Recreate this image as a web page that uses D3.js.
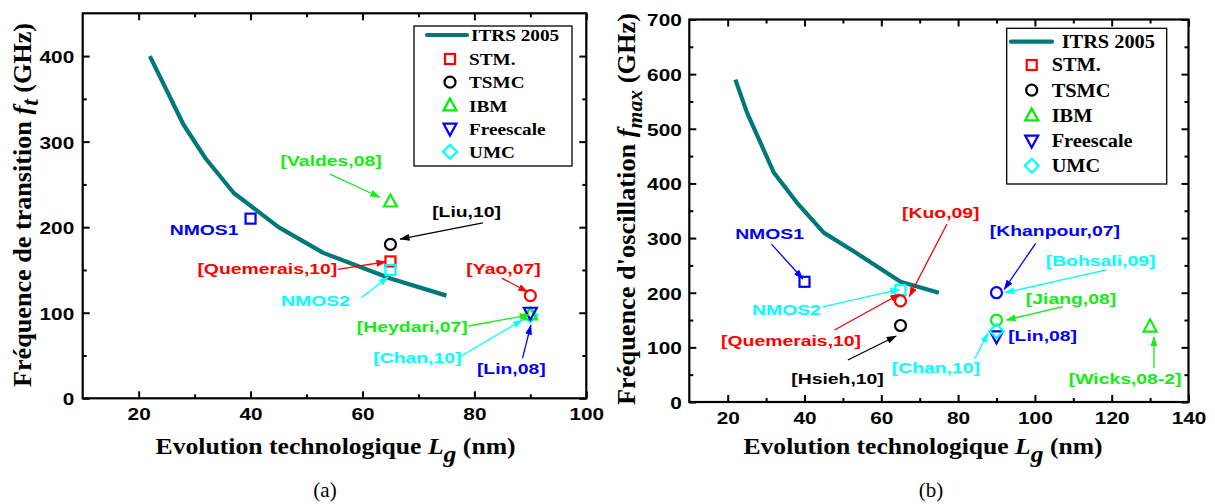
<!DOCTYPE html>
<html><head><meta charset="utf-8">
<script src="https://cdn.jsdelivr.net/npm/d3@7"></script>
<style>body{margin:0;background:#fff} svg{display:block}</style>
</head><body>
<svg id="c" width="1215" height="504"></svg>
<script>
// ---------------- DATA ----------------
const legendNames = ["ITRS 2005","STM.","TSMC","IBM","Freescale","UMC"];
const legendFoundry = ["STM","TSMC","IBM","Freescale","UMC"];
const legendColors = ["#ff0000","#000000","#00ee00","#0000ff","#00ffff"];

const ftItrsLg  = [22, 28, 32, 37, 45, 53, 65, 75];
const ftItrsVal = [400,320,280,240,200,170,140,120];
const fmaxItrsLg  = [22, 25, 32, 38, 45, 53, 65, 75];
const fmaxItrsVal = [590,530,420,365,310,275,220,200];

const ftLabels  = ["NMOS1","[Valdes,08]","[Liu,10]","[Quemerais,10]","NMOS2","[Yao,07]","[Chan,10]","[Heydari,07]","[Lin,08]"];
const ftFoundry = ["STM","IBM","TSMC","STM","STM","TSMC","UMC","IBM","Freescale"];
const ftLg      = [40, 65, 65, 65, 65, 90, 90, 90, 90];
const ftVal     = [210,230,180,160,150,120, 97, 98,100];

const fmaxLabels  = ["NMOS1","NMOS2","[Kuo,09]","[Hsieh,10]","[Khanpour,07]","[Jiang,08]","[Lin,08]","[Chan,10]","[Wicks,08-2]"];
const fmaxFoundry = ["STM","STM","TSMC","TSMC","TSMC","TSMC","Freescale","UMC","IBM"];
const fmaxLg      = [40, 65, 65, 65, 90, 90, 90, 90,130];
const fmaxVal     = [220,205,185,140,200,150,120,130,138];

const ftXTicks = [20,40,60,80,100];
const ftXMinor = [30,50,70,90];
const ftYTicks = [0,100,200,300,400];
const ftYMinor = [50,150,250,350];
const fmaxXTicks = [20,40,60,80,100,120,140];
const fmaxXMinor = [30,50,70,90,110,130];
const fmaxYTicks = [0,100,200,300,400,500,600,700];
const fmaxYMinor = [50,150,250,350,450,550,650];

// ---------------- STYLES / LAYOUT ----------------
const labelColor = {
  "NMOS1":"#0000ff","NMOS2":"#00ffff","[Valdes,08]":"#11ee11","[Liu,10]":"#000000",
  "[Quemerais,10]":"#ff0000","[Yao,07]":"#ff0000","[Chan,10]":"#00ffff","[Heydari,07]":"#11ee11",
  "[Lin,08]":"#0000ff","[Kuo,09]":"#ff0000","[Hsieh,10]":"#000000","[Khanpour,07]":"#0000ff",
  "[Jiang,08]":"#11ee11","[Wicks,08-2]":"#11ee11","[Bohsali,09]":"#00ffff"
};
const foundryShape = {STM:"square",TSMC:"circle",IBM:"up",Freescale:"down",UMC:"diamond"};
const ITRS_COLOR = "#007878";
const SERIF = "'Liberation Serif','Times New Roman',serif";
const SANS = "'Liberation Sans',Arial,sans-serif";

// annotation layout in data units: text centre, arrow start, arrow end
const ftNotes = [
  {t:"[Valdes,08]", at:[54.4,278], a:[[54.2,262],[63.1,235]]},
  {t:"[Liu,10]", at:[78.6,219], a:[[81.5,205],[66.7,186]]},
  {t:"NMOS1", at:[31.7,197.7]},
  {t:"[Quemerais,10]", at:[43,152], a:[[55.6,150.8],[64.2,159.6]]},
  {t:"NMOS2", at:[51.6,114], a:[[59.8,117.5],[64.6,142]]},
  {t:"[Yao,07]", at:[85.2,152], a:[[84.9,140.5],[89.5,124.5]]},
  {t:"[Heydari,07]", at:[68.9,84.5], a:[[79,84.5],[89.8,97.5]]},
  {t:"[Chan,10]", at:[69.8,48.2], a:[[77.4,48.6],[88.6,91.5]]},
  {t:"[Lin,08]", at:[86.6,35.4], a:[[88.6,47],[90.1,85.6]]}
];
const fmaxNotes = [
  {t:"NMOS1", at:[30.9,309], a:[[31.4,289],[39.6,225]]},
  {t:"[Kuo,09]", at:[75.5,346.4], a:[[77.1,325.8],[67.3,193]]},
  {t:"[Khanpour,07]", at:[105.2,314.8], a:[[100.2,290.4],[92,206]]},
  {t:"[Bohsali,09]", at:[117.1,259.9], a:[[118.6,241.6],[92.2,200]]},
  {t:"NMOS2", at:[35.3,170.2], a:[[44.7,173.9],[64.8,206.3]]},
  {t:"[Quemerais,10]", at:[36.5,113.5], a:[[47.8,131.8],[64.8,197.7]]},
  {t:"[Jiang,08]", at:[109.4,190.3], a:[[107.3,174.4],[92.5,150]]},
  {t:"[Lin,08]", at:[102,122.6]},
  {t:"[Chan,10]", at:[74.2,64], a:[[84.3,78.7],[87.8,126.3]]},
  {t:"[Hsieh,10]", at:[48.6,43.9], a:[[51.3,76.9],[63.9,120.8]]},
  {t:"[Wicks,08-2]", at:[123.5,43.9], a:[[131,62.2],[131,119.5]]}
];

const svg = d3.select("#c");
const defs = svg.append("defs");
const markerIds = {};
function arrowMarker(color){
  if (markerIds[color]) return markerIds[color];
  const id = "arr" + Object.keys(markerIds).length;
  defs.append("marker").attr("id",id).attr("markerUnits","userSpaceOnUse")
    .attr("markerWidth",10).attr("markerHeight",7).attr("refX",9.5).attr("refY",3.5)
    .attr("orient","auto")
    .append("path").attr("d","M0,0 L10,3.5 L0,7 z").attr("fill",color);
  markerIds[color] = id; return id;
}

function drawShape(g, shape, cx, cy, color){
  let el;
  if (shape==="square") el = g.append("rect").attr("x",cx-5).attr("y",cy-5).attr("width",10).attr("height",10);
  else if (shape==="circle") el = g.append("circle").attr("cx",cx).attr("cy",cy).attr("r",5.5);
  else {
    const pts = {up:[[0,-7],[6.5,5],[-6.5,5]], down:[[0,7],[6.5,-5],[-6.5,-5]], diamond:[[0,-7],[7,0],[0,7],[-7,0]]}[shape];
    el = g.append("polygon").attr("points", pts.map(p=>(cx+p[0])+","+(cy+p[1])).join(" "));
  }
  el.attr("fill","none").attr("stroke",color).attr("stroke-width",2.2);
}

function chart(cfg){
  const {x, y} = cfg;
  const g = svg.append("g");
  const [x0,x1] = x.range(), [y0,y1] = y.range();
  const styleAxis = a => { a.select(".domain").remove(); a.selectAll(".tick line").attr("stroke","#000").attr("stroke-width",2); };
  const tickText = a => a.selectAll("text").attr("font-family",SANS).attr("font-weight","bold")
      .attr("font-size",16).attr("fill","#000");

  // bottom
  const bx = g.append("g").attr("transform",`translate(0,${y0})`)
    .call(d3.axisBottom(x).tickValues(cfg.xTicks).tickSizeInner(-7).tickSizeOuter(0).tickPadding(10.5).tickFormat(d3.format("d")));
  styleAxis(bx); tickText(bx);
  bx.selectAll("text").attr("transform","scale(1.3,1)");
  g.append("g").attr("transform",`translate(0,${y0})`)
    .call(d3.axisBottom(x).tickValues(cfg.xMinor).tickSize(-4).tickFormat("")).call(styleAxis);
  // top
  g.append("g").attr("transform",`translate(0,${y1})`)
    .call(d3.axisTop(x).tickValues(cfg.xTicks).tickSize(-7).tickFormat("")).call(styleAxis);
  g.append("g").attr("transform",`translate(0,${y1})`)
    .call(d3.axisTop(x).tickValues(cfg.xMinor).tickSize(-4).tickFormat("")).call(styleAxis);
  // left
  const ly = g.append("g").attr("transform",`translate(${x0},0)`)
    .call(d3.axisLeft(y).tickValues(cfg.yTicks).tickSizeInner(-7).tickSizeOuter(0).tickPadding(8).tickFormat(d3.format("d")));
  styleAxis(ly); tickText(ly);
  ly.selectAll("text").attr("x",-cfg.yPad/1.3).attr("dy","0.4em").attr("transform","scale(1.3,1)");
  g.append("g").attr("transform",`translate(${x0},0)`)
    .call(d3.axisLeft(y).tickValues(cfg.yMinor).tickSize(-4).tickFormat("")).call(styleAxis);
  // right
  g.append("g").attr("transform",`translate(${x1},0)`)
    .call(d3.axisRight(y).tickValues(cfg.yTicks).tickSize(-7).tickFormat("")).call(styleAxis);
  g.append("g").attr("transform",`translate(${x1},0)`)
    .call(d3.axisRight(y).tickValues(cfg.yMinor).tickSize(-4).tickFormat("")).call(styleAxis);

  // frame
  g.append("rect").attr("x",x0).attr("y",y1).attr("width",x1-x0).attr("height",y0-y1)
    .attr("fill","none").attr("stroke","#000").attr("stroke-width",2.2);

  // ITRS line
  const line = d3.line().x(d=>x(d[0])).y(d=>y(d[1]));
  g.append("path").datum(cfg.itrsX.map((v,i)=>[v,cfg.itrsY[i]]))
    .attr("d",line).attr("fill","none").attr("stroke",ITRS_COLOR).attr("stroke-width",4.2)
    .attr("stroke-linejoin","round");

  // points
  const pg = g.append("g");
  cfg.pLg.forEach((v,i)=> drawShape(pg, foundryShape[cfg.pFoundry[i]], x(v), y(cfg.pVal[i]), labelColor[cfg.pLabels[i]]));

  // annotations
  const ag = g.append("g");
  cfg.notes.forEach(n=>{
    const c = labelColor[n.t];
    if (n.a){
      ag.append("line").attr("x1",x(n.a[0][0])).attr("y1",y(n.a[0][1]))
        .attr("x2",x(n.a[1][0])).attr("y2",y(n.a[1][1]))
        .attr("stroke",c).attr("stroke-width",1.3).attr("marker-end",`url(#${arrowMarker(c)})`);
    }
    ag.append("text").attr("transform",`translate(${x(n.at[0])},${y(n.at[1])}) scale(1.25,1)`)
      .attr("text-anchor","middle").attr("dy","0.36em")
      .attr("font-family",SANS).attr("font-weight","bold").attr("font-size",15.5).attr("fill",c).text(n.t);
  });

  // legend
  const L = cfg.legend;
  const lg = g.append("g");
  lg.append("rect").attr("x",L.x).attr("y",L.y).attr("width",L.w).attr("height",L.h)
    .attr("fill","#fff").attr("stroke","#000").attr("stroke-width",1.3);
  lg.append("line").attr("x1",L.lineX[0]).attr("x2",L.lineX[1]).attr("y1",L.rows[0]).attr("y2",L.rows[0])
    .attr("stroke",ITRS_COLOR).attr("stroke-width",4.2).attr("stroke-linecap","round");
  const lt = (txt, tx, ty) => lg.append("text").attr("transform",`translate(${tx},${ty}) scale(${L.sx},1)`)
    .attr("dy","0.35em").attr("font-family",SERIF).attr("font-weight","bold").attr("font-size",L.fs).attr("fill","#000").text(txt);
  lt(legendNames[0], L.itrsTextX, L.rows[0]);
  legendFoundry.forEach((f,i)=>{
    drawShape(lg, foundryShape[f], L.markX, L.rows[i+1], legendColors[i]);
    lt(legendNames[i+1], L.textX, L.rows[i+1]);
  });

  // axis titles
  const xt = g.append("text").attr("x",cfg.xTitle[0]).attr("y",cfg.xTitle[1]).attr("text-anchor","middle")
    .attr("font-family",SERIF).attr("font-weight","bold").attr("font-size",24)
    .attr("textLength",cfg.xTitleLen).attr("lengthAdjust","spacingAndGlyphs");
  xt.append("tspan").text("Evolution technologique ");
  xt.append("tspan").attr("font-style","italic").text("L");
  xt.append("tspan").attr("font-style","italic").attr("dy",8).text("g");
  xt.append("tspan").attr("dy",-8).text(" (nm)");

  const yt = g.append("text").attr("transform",`translate(${cfg.yTitle[0]},${cfg.yTitle[1]}) rotate(-90)`)
    .attr("text-anchor","middle").attr("font-family",SERIF).attr("font-weight","bold").attr("font-size",25.5)
    .attr("textLength",cfg.yTitleLen).attr("lengthAdjust","spacingAndGlyphs");
  yt.append("tspan").text(cfg.yTitleMain);
  yt.append("tspan").attr("font-style","italic").text("f");
  yt.append("tspan").attr("font-style","italic").attr("dy",7).attr("font-size",cfg.subSize).text(cfg.yTitleSub);
  yt.append("tspan").attr("dy",-7).text(" (GHz)");

  g.append("text").attr("x",cfg.caption[0]).attr("y",cfg.caption[1]).attr("text-anchor","middle")
    .attr("font-family",SERIF).attr("font-size",21).attr("fill","#000").text(cfg.captionText);
}

chart({
  x: d3.scaleLinear().domain([10,100]).range([82.7,586.3]),
  y: d3.scaleLinear().domain([0,450]).range([398.3,13.3]),
  xTicks: ftXTicks, xMinor: ftXMinor, yTicks: ftYTicks, yMinor: ftYMinor, yPad: 8.5,
  itrsX: ftItrsLg, itrsY: ftItrsVal,
  pLg: ftLg, pVal: ftVal, pFoundry: ftFoundry, pLabels: ftLabels,
  notes: ftNotes,
  legend: {x:414, y:26, w:158, h:140, lineX:[427,467], rows:[35,59,82.2,105.4,128.6,151.8], markX:450, textX:469, itrsTextX:471, fs:17.5, sx:1.1},
  xTitle:[335.6,453.5], xTitleLen:360,
  yTitle:[31,205], yTitleLen:364, yTitleMain:"Fréquence de transition ", yTitleSub:"t", subSize:23,
  caption:[325,497], captionText:"(a)"
});
chart({
  x: d3.scaleLinear().domain([10,140]).range([689.3,1188.5]),
  y: d3.scaleLinear().domain([0,700]).range([402,19.5]),
  xTicks: fmaxXTicks, xMinor: fmaxXMinor, yTicks: fmaxYTicks, yMinor: fmaxYMinor, yPad: 7.5,
  itrsX: fmaxItrsLg, itrsY: fmaxItrsVal,
  pLg: fmaxLg, pVal: fmaxVal, pFoundry: fmaxFoundry, pLabels: fmaxLabels,
  notes: fmaxNotes,
  legend: {x:1006.7, y:28.3, w:160, h:155.7, lineX:[1011,1052], rows:[41.7,65,90.2,115.4,140.6,165.8], markX:1031.7, textX:1051.7, itrsTextX:1061.7, fs:18, sx:1.13},
  xTitle:[923,453.5], xTitleLen:359,
  yTitle:[635,209], yTitleLen:392, yTitleMain:"Fréquence d'oscillation ", yTitleSub:"max", subSize:21,
  caption:[931,497], captionText:"(b)"
});
</script>
</body></html>
